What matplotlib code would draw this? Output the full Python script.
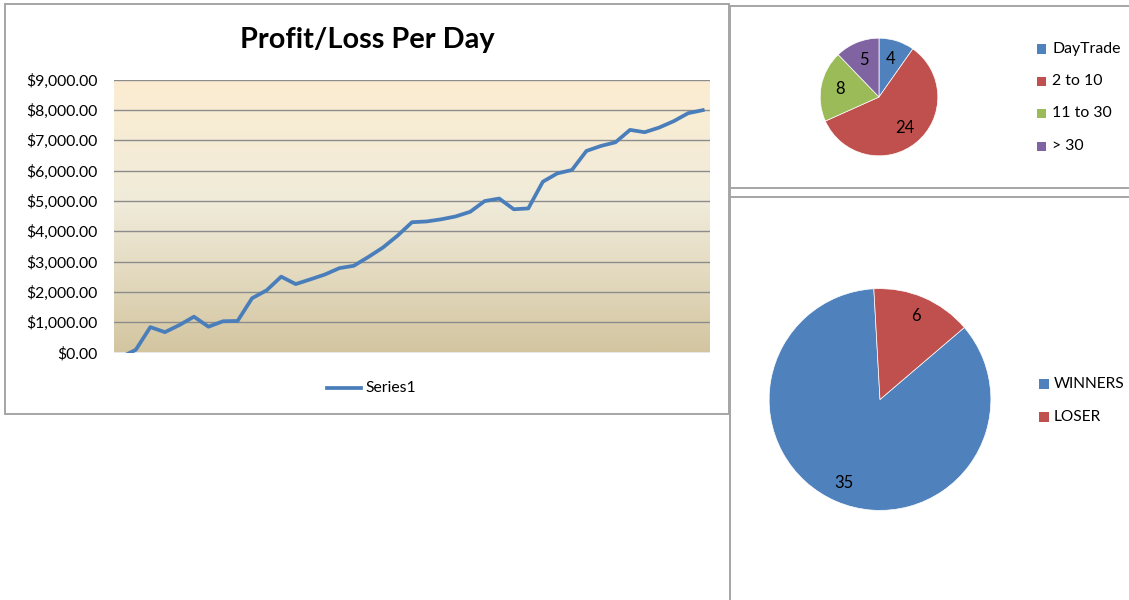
import numpy as np
import matplotlib
matplotlib.use("Agg")
import matplotlib.pyplot as plt
from matplotlib.colors import LinearSegmentedColormap
from matplotlib.lines import Line2D
from matplotlib.patches import Rectangle

plt.rcParams['font.family'] = ['Lato', 'DejaVu Sans']

# daily running profit/loss (41 trading days)
profit = [-150, 89, 837, 671, 905, 1180, 850, 1030, 1040, 1790,
          2050, 2500, 2255, 2410, 2570, 2780, 2860, 3150, 3460, 3850,
          4295, 4320, 4390, 4485, 4638, 4992, 5075, 4722, 4750, 5630,
          5906, 6016, 6645, 6810, 6931, 7339, 7262, 7415, 7625, 7890, 7989]
yticks = [0, 1000, 2000, 3000, 4000, 5000, 6000, 7000, 8000, 9000]

hold_labels = ["DayTrade", "2 to 10", "11 to 30", "> 30"]
hold_counts = [4, 24, 8, 5]

wl_labels = ["WINNERS", "LOSER"]
wl_counts = [35, 6]

excel_colors = ["#4F81BD", "#C0504D", "#9BBB59", "#8064A2"]
W, H = 1129, 600


def fx(px):
    return px / W


def fy(py):
    return 1 - py / H


fig = plt.figure(figsize=(W / 100, H / 100), dpi=100)
fig.patch.set_facecolor("white")

# ---- chart borders ----
border = "#A5A5A5"
fig.add_artist(Rectangle((fx(5), fy(414)), fx(729) - fx(5), fy(4) - fy(414),
                         transform=fig.transFigure, fill=False, ec=border, lw=1.4))
for xs, ys in [([730, 1129], [6, 6]), ([730, 730], [6, 600]),
               ([730, 1129], [188, 188]), ([730, 1129], [197, 197])]:
    fig.add_artist(Line2D([fx(x) for x in xs], [fy(y) for y in ys],
                          transform=fig.transFigure, color=border, lw=1.4))

# ---- profit/loss line chart ----
ax = fig.add_axes([fx(114), fy(352.5), fx(710) - fx(114), fy(79.5) - fy(352.5)])
days = np.arange(1, len(profit) + 1)
x0, x1 = 0.5, len(profit) + 0.5

grad_cmap = LinearSegmentedColormap.from_list(
    "parchment", [(0.0, "#D3C5A0"), (0.3, "#E4DBC1"), (0.55, "#F0EBDA"), (1.0, "#FCEDD1")])
grad = np.linspace(0, 1, 256).reshape(-1, 1)
ax.imshow(grad, extent=[x0, x1, 0, 9000], origin="lower", aspect="auto",
          cmap=grad_cmap, zorder=0)

ax.plot(days, profit, color="#4A7EBB", lw=2.7, solid_joinstyle="round", zorder=3)
ax.set_xlim(x0, x1)
ax.set_ylim(0, 9000)
ax.set_yticks(yticks)
ax.set_yticklabels(["${:,.2f}".format(v) for v in yticks], fontsize=11.3)
ax.set_xticks([])
ax.tick_params(axis="y", length=0, pad=12)
ax.grid(axis="y", color="#8C8C8C", lw=1.0)
for s in ax.spines.values():
    s.set_visible(False)

fig.text(fx(367.5), fy(40), "Profit/Loss Per Day", fontsize=20.8, fontweight="bold",
         ha="center", va="center")

fig.add_artist(Line2D([fx(327), fx(361)], [fy(388), fy(388)],
                      transform=fig.transFigure, color="#4A7EBB", lw=2.7))
fig.text(fx(365), fy(388), "Series1", fontsize=11.3, ha="left", va="center")


# ---- pie charts ----
def pie_box(cx, cy, r):
    return [fx(cx - r), fy(cy + r), fx(cx + r) - fx(cx - r), fy(cy - r) - fy(cy + r)]


def count_label(vals):
    total = sum(vals)
    return lambda p: "{:d}".format(int(round(p * total / 100)))


axp = fig.add_axes(pie_box(879, 97, 60))
axp.pie(hold_counts, colors=excel_colors, startangle=90,
        counterclock=False, autopct=count_label(hold_counts),
        pctdistance=0.68, wedgeprops=dict(ec="white", lw=0.5),
        textprops=dict(fontsize=12))
axp.set_xlim(-1.02, 1.02)
axp.set_ylim(-1.02, 1.02)

axw = fig.add_axes(pie_box(880, 399.5, 112))
axw.pie(wl_counts, colors=excel_colors[:2], startangle=40.5, counterclock=False,
        autopct=count_label(wl_counts), pctdistance=0.82,
        wedgeprops=dict(ec="white", lw=0.5), textprops=dict(fontsize=12))
axw.set_xlim(-1.01, 1.01)
axw.set_ylim(-1.01, 1.01)


# ---- legends ----
def legend(labels, colors, sx, tx, ys, size, fs):
    for lab, col, y in zip(labels, colors, ys):
        fig.add_artist(Rectangle((fx(sx), fy(y + size / 2)), size / W, size / H,
                                 transform=fig.transFigure, fc=col, ec="none"))
        fig.text(fx(tx), fy(y), lab, fontsize=fs, ha="left", va="center")


legend(hold_labels, excel_colors, 1037, 1052, [49, 81, 113, 146], 9, 11.4)
legend(wl_labels, excel_colors[:2], 1039, 1054, [384, 417], 10, 11.2)

fig.savefig("out.png", dpi=100)
